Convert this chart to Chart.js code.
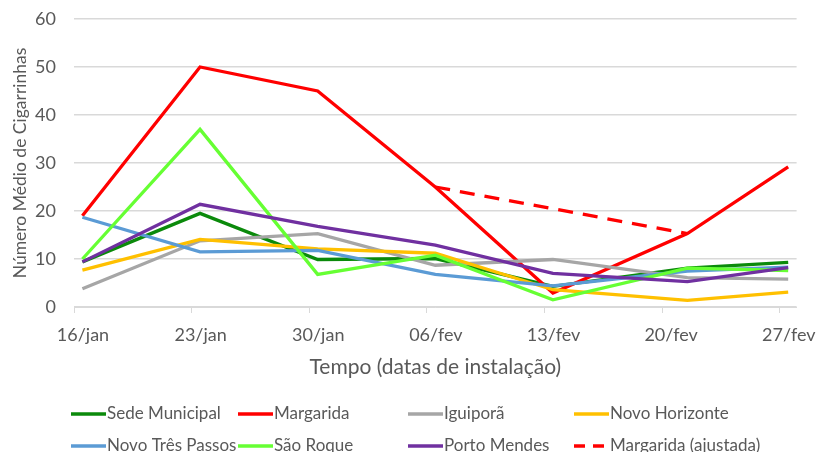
<!DOCTYPE html>
<html><head><meta charset="utf-8">
<script src="https://cdn.jsdelivr.net/npm/chart.js@4"></script>
<style>html,body{margin:0;padding:0;background:#fff}#wrap{width:818px;height:452px}</style>
</head><body><div id="wrap"><canvas id="c" width="818" height="452"></canvas></div>
<script>
// Tick labels of the date axis (one every 7 days starting 16/jan)
const tickLabels = ['16/jan','23/jan','30/jan','06/fev','13/fev','20/fev','27/fev'];
// Installation dates, as days after 16/jan (16/jan, 23/jan, 30/jan, 06/fev, 13/fev, 21/fev, 27/fev)
const sampleDays = [0, 7, 14, 21, 28, 36, 42];

const seriesNames = ['Sede Municipal','Margarida','Iguiporã','Novo Horizonte','Novo Três Passos','São Roque','Porto Mendes','Margarida (ajustada)'];
const sedeMunicipal  = [9.4, 19.5, 9.9, 10.1, 4.3, 8.1, 9.3];
const margarida      = [19.0, 50.0, 45.0, 25.0, 2.9, 15.3, 29.2];
const iguipora       = [3.8, 13.8, 15.3, 8.7, 9.9, 6.1, 5.8];
const novoHorizonte  = [7.7, 14.1, 12.1, 11.2, 3.6, 1.4, 3.1];
const novoTresPassos = [18.7, 11.5, 11.8, 6.8, 4.4, 7.5, 8.3];
const saoRoque       = [10.0, 37.0, 6.8, 10.8, 1.5, 8.1, 7.6];
const portoMendes    = [9.4, 21.4, 16.8, 12.9, 7.0, 5.3, 8.2];
const margaridaAjust = [null, null, null, 25.0, null, 15.3, null];

const allSeries = [sedeMunicipal, margarida, iguipora, novoHorizonte, novoTresPassos, saoRoque, portoMendes, margaridaAjust];
const colors = ['#0b8a0b','#ff0000','#a6a6a6','#ffc000','#5b9bd5','#66ff33','#7030a0','#ff0000'];

Chart.defaults.font.family = 'Lato, "Open Sans", sans-serif';
Chart.defaults.color = '#595959';

const datasets = allSeries.map((vals, i) => ({
  label: seriesNames[i],
  data: vals.map((v, j) => ({x: sampleDays[j] + 0.5, y: v})),
  borderColor: colors[i],
  backgroundColor: colors[i],
  borderWidth: 3.3,
  borderDash: i === 7 ? [15, 10] : [],
  pointRadius: 0,
  tension: 0,
  spanGaps: true,
  order: allSeries.length - i
}));

const gridLegend = {
  id: 'gridLegend',
  afterDraw(chart) {
    const ctx = chart.ctx;
    const colX = [71, 238, 408, 574];
    const rowY = [414, 446];
    ctx.save();
    ctx.font = '17px Lato, "Open Sans", sans-serif';
    ctx.textBaseline = 'middle';
    chart.data.datasets.forEach((ds, i) => {
      const x = colX[i % 4], y = rowY[Math.floor(i / 4)];
      ctx.strokeStyle = ds.borderColor;
      ctx.lineWidth = 3.3;
      ctx.setLineDash(ds.borderDash && ds.borderDash.length ? [11, 8] : []);
      ctx.beginPath();
      ctx.moveTo(x, y);
      ctx.lineTo(x + 35, y);
      ctx.stroke();
      ctx.setLineDash([]);
      ctx.fillStyle = '#595959';
      ctx.fillText(ds.label, x + 36, y);
    });
    ctx.restore();
  }
};

new Chart(document.getElementById('c'), {
  type: 'line',
  data: {datasets},
  plugins: [gridLegend],
  options: {
    responsive: false,
    animation: false,
    layout: {padding: {top: 19, right: 21, bottom: 72, left: 0}},
    plugins: {legend: {display: false}, tooltip: {enabled: false}},
    scales: {
      x: {
        type: 'linear', min: 0, max: 43,
        afterBuildTicks: s => { s.ticks = tickLabels.map((_, i) => ({value: i * 7})); },
        afterFit: s => { s.height = 73; },
        ticks: {
          callback: (v, i) => tickLabels[i],
          labelOffset: 9, padding: 11, maxRotation: 0, autoSkip: false,
          font: {size: 18}, color: '#595959'
        },
        grid: {drawOnChartArea: false, drawTicks: true, tickLength: 6, color: '#d9d9d9'},
        border: {display: true, color: '#d9d9d9'},
        title: {display: true, text: 'Tempo (datas de instalação)', font: {size: 21}, color: '#595959', padding: {top: 0, bottom: 0}}
      },
      y: {
        min: 0, max: 60,
        afterFit: s => { s.width = 74; },
        ticks: {stepSize: 10, font: {size: 18}, color: '#595959', padding: 0},
        grid: {color: '#d9d9d9', drawTicks: true, tickLength: 18, tickColor: 'rgba(0,0,0,0)', lineWidth: 1.5},
        border: {display: false},
        title: {display: true, text: 'Número Médio de Cigarrinhas', font: {size: 17.5}, color: '#595959', padding: {top: 10, bottom: 0}}
      }
    }
  }
});
</script>
</body></html>
